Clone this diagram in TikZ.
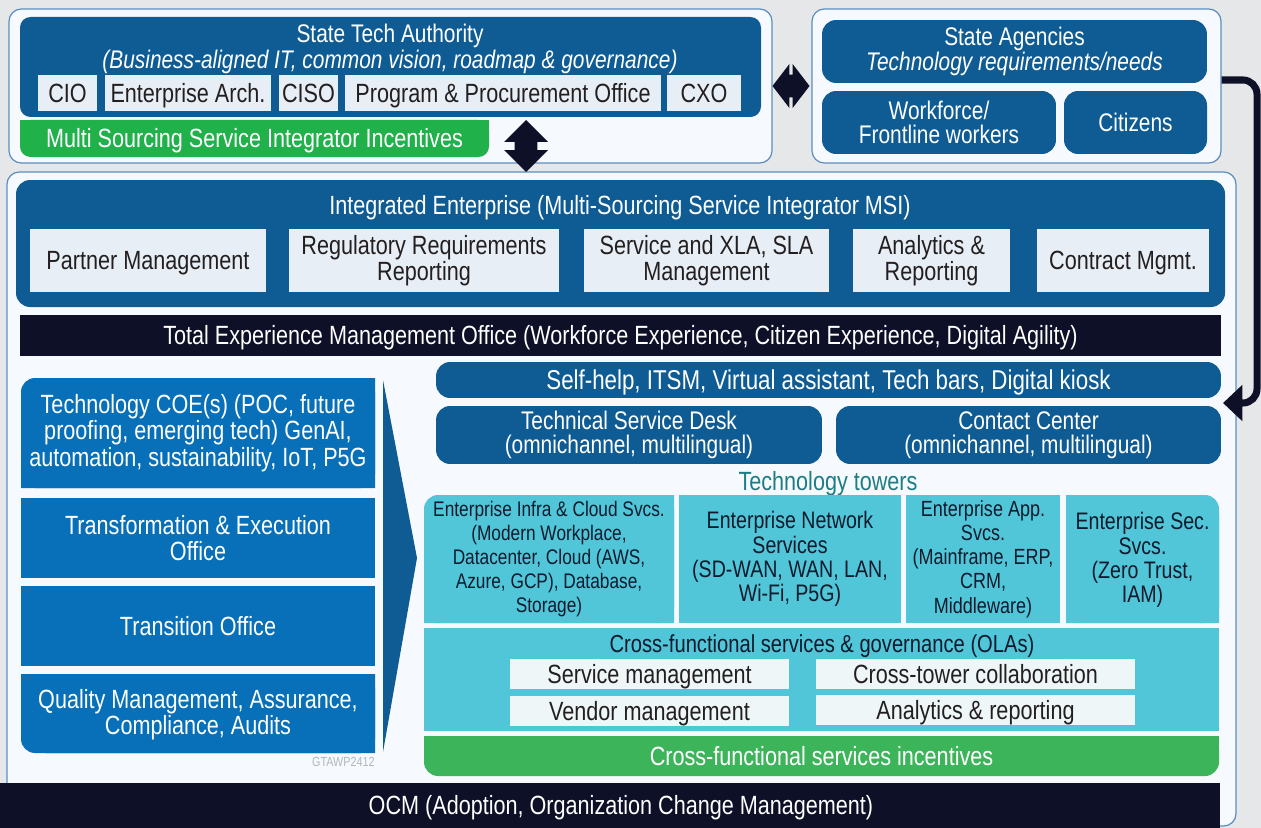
\documentclass[tikz,border=0pt]{standalone}
\usepackage{fontspec}
\setmainfont{Liberation Sans}[FakeStretch=0.82]
\usetikzlibrary{fit,shapes.arrows,arrows.meta}

\definecolor{canvas}{HTML}{E6E7E8}
\definecolor{panel}{HTML}{F6F9FD}
\definecolor{panelline}{HTML}{5B8EC0}
\definecolor{stblue}{HTML}{0F5C95}
\definecolor{coeblue}{HTML}{0870B8}
\definecolor{navy}{HTML}{0D1027}
\definecolor{paleb}{HTML}{E7EEF5}
\definecolor{boxtext}{HTML}{231F20}
\definecolor{mgreen}{HTML}{21B14B}
\definecolor{cgreen}{HTML}{3CB55A}
\definecolor{tower}{HTML}{50C6D8}
\definecolor{towertext}{HTML}{0F1A2C}
\definecolor{olafill}{HTML}{EEF6F8}
\definecolor{ttteal}{HTML}{1C7E84}
\definecolor{tagray}{HTML}{B3B6BA}

\newcommand\fL{\fontsize{15}{15}\selectfont}
\newcommand\fM{\fontsize{14.5}{13.4}\selectfont}
\newcommand\fN{\fontsize{13.6}{13.8}\selectfont}
\newcommand\fS{\fontsize{12}{13.6}\selectfont}

\tikzset{
  panelbox/.style={fill=panel, draw=panelline, line width=0.7pt, rounded corners=7pt, inner sep=0pt},
  bluebox/.style={fill=stblue, rounded corners=8pt, text=white, inner sep=0pt, align=center, font=\fM},
  palebox/.style={fill=paleb, text=boxtext, inner sep=0pt, align=center, font=\fL},
  navybar/.style={fill=navy, text=white, inner sep=0pt, font=\fL},
  coebox/.style={fill=coeblue, text=white, inner sep=0pt, align=center, font=\fL, minimum width=7.08cm, minimum height=1.6cm},
  towerbox/.style={fill=tower, text=towertext, inner sep=0pt, align=center, font=\fS, minimum height=2.56cm},
  olabox/.style={fill=olafill, text=boxtext, inner sep=0pt, font=\fL, minimum height=0.6cm},
  txt/.style={inner sep=0pt, align=center},
  oneline/.style={text height=11.5pt, text depth=0.8pt},
  dbl/.style={double arrow, fill=navy, inner xsep=0pt, inner ysep=0.22cm, double arrow head extend=0.21cm},
  flow/.style={navy, line width=4pt, rounded corners=8pt, -{Triangle[length=11pt,width=20pt]}}
}

\begin{document}
\begin{tikzpicture}[x=0.02cm, y=-0.02cm]
\useasboundingbox (0,0) rectangle (1261,828);
\fill[canvas] (0,0) rectangle (1261,828);

\node[panelbox, fit={(9,9) (772,163)}] (tlpanel) {};
\node[bluebox, rounded corners=6pt, fit={(20,17) (761,117)}] (sta) {};
\node[txt, text=white, font=\fM] (statitle) at (390,49) {State Tech Authority\\\textit{(Business-aligned IT, common vision, roadmap \& governance)}};
\node[palebox, oneline, minimum width=1.18cm, minimum height=0.72cm] (cio) at (67.5,93) {CIO};
\node[palebox, oneline, minimum width=3.32cm, minimum height=0.72cm] (ea) at (188,93) {Enterprise Arch.};
\node[palebox, oneline, minimum width=1.18cm, minimum height=0.72cm] (ciso) at (308.5,93) {CISO};
\node[palebox, oneline, minimum width=6.32cm, minimum height=0.72cm] (ppo) at (503,93) {Program \& Procurement Office};
\node[palebox, oneline, minimum width=1.48cm, minimum height=0.72cm] (cxo) at (704,93) {CXO};
\fill[mgreen, rounded corners=6pt] (20,120) rectangle (489,157);
\fill[mgreen] (20,120) rectangle (489,138);
\node[txt, oneline, text=white, font=\fL] (msi) at (254.5,138.5) {Multi Sourcing Service Integrator Incentives};

\node[panelbox, fit={(812,9) (1221,163)}] (trpanel) {};
\node[bluebox, minimum width=7.7cm, minimum height=1.26cm] (agencies) at (1014.5,51.5) {State Agencies\\\textit{Technology requirements/needs}};
\node[bluebox, minimum width=4.68cm, minimum height=1.26cm] (workforce) at (939,122.5) {Workforce/\\Frontline workers};
\node[bluebox, oneline, minimum width=2.86cm, minimum height=1.26cm] (citizens) at (1135.5,122.5) {Citizens};

\node[panelbox, fit={(7,172) (1236,826)}] (mainpanel) {};
\node[bluebox, fit={(16,180) (1225,307)}] (ie) {};
\node[txt, oneline, text=white, font=\fL] (ietitle) at (620,205) {Integrated Enterprise (Multi-Sourcing Service Integrator MSI)};
\node[palebox, oneline, minimum width=4.72cm, minimum height=1.26cm] (partner) at (148,260.5) {Partner Management};
\node[palebox, minimum width=5.4cm, minimum height=1.26cm] (regrep) at (424,260.5) {Regulatory Requirements\\Reporting};
\node[palebox, minimum width=4.9cm, minimum height=1.26cm] (xla) at (706.5,260.5) {Service and XLA, SLA\\Management};
\node[palebox, minimum width=3.14cm, minimum height=1.26cm] (analytics) at (931.5,260.5) {Analytics \&\\Reporting};
\node[palebox, oneline, minimum width=3.44cm, minimum height=1.26cm] (contract) at (1123,260.5) {Contract Mgmt.};

\node[navybar, oneline, minimum width=24.02cm, minimum height=0.82cm] (txmo) at (620.5,335.5) {Total Experience Management Office (Workforce Experience, Citizen Experience, Digital Agility)};
\node[bluebox, oneline, font=\fontsize{15.5}{15}\selectfont, minimum width=15.7cm, minimum height=0.72cm] (selfhelp) at (828.5,380) {Self-help, ITSM, Virtual assistant, Tech bars, Digital kiosk};
\node[bluebox, minimum width=7.72cm, minimum height=1.16cm] (tsd) at (629,435) {Technical Service Desk\\(omnichannel, multilingual)};
\node[bluebox, minimum width=7.7cm, minimum height=1.16cm] (contact) at (1028.5,435) {Contact Center\\(omnichannel, multilingual)};
\node[txt, oneline, text=ttteal, font=\fL] (ttlabel) at (828,481) {Technology towers};

\fill[tower, rounded corners=8pt] (424,495) rectangle (674,623);
\fill[tower] (424,515) rectangle (674,623) (450,495) rectangle (674,623);
\node[txt, text=towertext, font=\fS] (infra) at (549,559) {Enterprise Infra \& Cloud Svcs.\\(Modern Workplace,\\Datacenter, Cloud (AWS,\\Azure, GCP), Database,\\Storage)};
\node[towerbox, font=\fN, minimum width=4.44cm] (network) at (790,559) {Enterprise Network\\Services\\(SD-WAN, WAN, LAN,\\Wi-Fi, P5G)};
\node[towerbox, font=\fontsize{12.5}{13.8}\selectfont, minimum width=3.08cm] (appsvc) at (983,559) {Enterprise App.\\Svcs.\\(Mainframe, ERP,\\CRM,\\Middleware)};
\fill[tower, rounded corners=8pt] (1066,495) rectangle (1219,623);
\fill[tower] (1066,515) rectangle (1219,623) (1066,495) rectangle (1190,623);
\node[txt, text=towertext, font=\fN] (secsvc) at (1142.5,560) {Enterprise Sec.\\Svcs.\\(Zero Trust,\\IAM)};

\node[fill=tower, inner sep=0pt, fit={(424,628) (1219,731)}] (xfunc) {};
\node[txt, oneline, text=towertext, font=\fontsize{14}{14}\selectfont] (xftitle) at (822,643) {Cross-functional services \& governance (OLAs)};
\node[olabox, oneline, minimum width=5.58cm] (svcmgmt) at (649.5,674) {Service management};
\node[olabox, oneline, minimum width=6.38cm] (xtower) at (975.5,674) {Cross-tower collaboration};
\node[olabox, oneline, minimum width=5.58cm] (vendor) at (649.5,711) {Vendor management};
\node[olabox, oneline, minimum width=6.38cm] (anrep) at (975.5,710) {Analytics \& reporting};
\fill[cgreen, rounded corners=8pt] (424,736) rectangle (1219,776);
\fill[cgreen] (424,736) rectangle (1219,756);
\node[txt, oneline, text=white, font=\fL] (xfinc) at (821.5,756) {Cross-functional services incentives};

\node[navybar, minimum width=24.4cm, minimum height=0.9cm] (ocm) at (610,805.5) {};
\node[txt, oneline, text=white, font=\fL] (ocmtext) at (621,805.5) {OCM (Adoption, Organization Change Management)};

\fill[coeblue, rounded corners=8pt] (21,378) rectangle (375,488);
\fill[coeblue] (21,398) rectangle (375,488) (45,378) rectangle (375,488);
\node[txt, text=white, font=\fL] (coe) at (198,433) {Technology COE(s) (POC, future\\proofing, emerging tech) GenAI,\\automation, sustainability, IoT, P5G};
\node[coebox] (transform) at (198,538) {Transformation \& Execution\\Office};
\node[coebox, oneline] (transition) at (198,626) {Transition Office};
\fill[coeblue, rounded corners=8pt] (21,674) rectangle (375,753);
\fill[coeblue] (21,674) rectangle (375,730) (45,674) rectangle (375,753);
\node[txt, text=white, font=\fL] (quality) at (198,714.5) {Quality Management, Assurance,\\Compliance, Audits};
\fill[stblue] (383,380) -- (417,558) -- (383,752) -- cycle;
\node[txt, anchor=east, text=tagray, font=\fontsize{7.5}{8}\selectfont] (tag) at (375,762) {GTAWP2412};

\node[dbl, rotate=90, minimum height=1.04cm] (vlink) at (526,146) {};
\node[dbl, double arrow tip angle=105, minimum height=0.74cm] (hlink) at (791,86) {};
\coordinate (entry) at (1223,403);
\draw[flow] (trpanel.east |- 0,80) -- (1257,80) -- (1257,403) -- (entry);
\end{tikzpicture}
\end{document}
